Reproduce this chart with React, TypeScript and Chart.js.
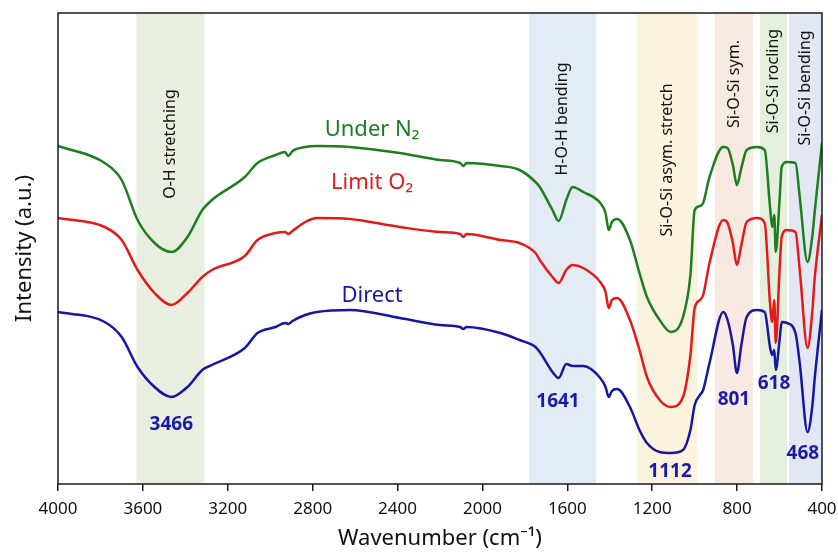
import React, { useEffect, useRef } from "react";
import { Chart, registerables } from "chart.js";

Chart.register(...registerables);

// Wavenumber grid (cm-1)
const wavenumbers = [
  4000, 3780, 3700, 3625, 3545, 3466, 3390, 3320, 3275, 3120, 3060, 2975, 2930, 2915, 2895, 2835, 2780, 2625,
  2390, 2200, 2105, 2090, 2075, 1915, 1825, 1750, 1730, 1670, 1641, 1605, 1575, 1525, 1445, 1420, 1405, 1390,
  1365, 1305, 1260, 1225, 1165, 1112, 1055, 1020, 1000, 975, 960, 930, 865, 845, 820, 801, 780, 755, 705, 670,
  645, 635, 625, 618, 600, 590, 565, 525, 505, 468, 445, 435, 400,
];

// Intensities (a.u., offset traces)
const underN2 = [
  338, 321, 304, 264, 241, 232, 247, 274, 284, 307, 321, 329, 332, 328, 333, 337, 338, 337,
  331, 324, 321, 318, 321, 318, 314, 302, 297, 274, 263, 284, 297, 292, 281, 271, 254, 262,
  265, 244, 211, 187, 164, 152, 167, 209, 274, 278, 281, 307, 337, 336, 319, 299, 316, 334, 337, 334,
  277, 257, 269, 232, 284, 317, 322, 321, 287, 222, 249, 271, 341,
];
const limitO2 = [
  266, 257, 244, 214, 191, 179, 191, 207, 214, 228, 244, 251, 252, 250, 253, 262, 266, 265,
  257, 252, 250, 247, 250, 244, 241, 231, 224, 207, 201, 214, 219, 216, 202, 192, 176, 184,
  186, 164, 134, 107, 84, 77, 87, 129, 176, 184, 189, 221, 264, 261, 241, 219, 239, 262, 266, 261,
  181, 162, 184, 141, 214, 247, 254, 252, 214, 136, 174, 204, 269,
];
const direct = [
  172, 162, 147, 117, 97, 87, 97, 114, 119, 136, 151, 157, 161, 160, 163, 169, 172, 174,
  166, 159, 157, 155, 157, 151, 144, 137, 132, 112, 106, 120, 118, 118, 106, 97, 87, 93,
  95, 77, 54, 41, 32, 31, 34, 54, 79, 89, 94, 121, 172, 164, 139, 111, 139, 167, 174, 172,
  137, 129, 134, 114, 144, 162, 161, 151, 121, 52, 79, 104, 174,
];

const xTicks = [4000, 3600, 3200, 2800, 2400, 2000, 1600, 1200, 800, 400];

// Assignment bands
const bandNames = ["O-H stretching", "H-O-H bending", "Si-O-Si asym. stretch", "Si-O-Si sym.", "Si-O-Si rocling", "Si-O-Si bending"];
const bandStart = [3630, 1780, 1271, 904, 692, 555];
const bandEnd = [3310, 1465, 989, 725, 565, 400];
const bandLabelY = [340, 365, 324, 400, 403, 396];
const bandColors = ["#e8efe0", "#e3ebf4", "#fbf3dd", "#f8e9e2", "#e5efdd", "#e3e7f3"];

// Peak labels
const peakLabels = ["3466", "1641", "1112", "801", "618", "468"];
const peakLabelX = [3466, 1644, 1116, 815, 626, 490];
const peakLabelY = [59, 82, 12, 84, 100, 30];

// Series labels
const seriesNames = ["Under N\u2082", "Limit O\u2082", "Direct"];
const seriesLabelX = [2520, 2520, 2520];
const seriesLabelY = [354, 301, 188];
const seriesColors = ["#1e7d1e", "#e61919", "#1616a3"];

const FONT = "'Noto Sans', 'DejaVu Sans', sans-serif";

export default function App() {
  const ref = useRef<HTMLCanvasElement | null>(null);

  useEffect(() => {
    document.body.style.margin = "0";
    const canvas = ref.current;
    if (!canvas) return;

    const series = [underN2, limitO2, direct];

    const bandsPlugin = {
      id: "bands",
      beforeDatasetsDraw(chart: any) {
        const { ctx, chartArea, scales } = chart;
        const xs = scales.x;
        const ys = scales.y;
        ctx.save();
        for (let i = 0; i < bandNames.length; i++) {
          const x1 = xs.getPixelForValue(bandStart[i]);
          const x2 = xs.getPixelForValue(bandEnd[i]);
          ctx.fillStyle = bandColors[i];
          ctx.fillRect(x1, chartArea.top, x2 - x1, chartArea.bottom - chartArea.top);
        }
        for (let i = 0; i < bandNames.length; i++) {
          const cx = (xs.getPixelForValue(bandStart[i]) + xs.getPixelForValue(bandEnd[i])) / 2;
          const cy = ys.getPixelForValue(bandLabelY[i]);
          ctx.save();
          ctx.translate(cx, cy);
          ctx.rotate(-Math.PI / 2);
          ctx.fillStyle = "#111";
          ctx.font = `16px ${FONT}`;
          ctx.textAlign = "center";
          ctx.textBaseline = "middle";
          ctx.fillText(bandNames[i], 0, 0);
          ctx.restore();
        }
        ctx.restore();
      },
      afterDatasetsDraw(chart: any) {
        const { ctx, chartArea, scales } = chart;
        const xs = scales.x;
        const ys = scales.y;
        ctx.save();
        ctx.textAlign = "center";
        ctx.textBaseline = "middle";
        for (let i = 0; i < seriesNames.length; i++) {
          ctx.fillStyle = seriesColors[i];
          ctx.font = `22px ${FONT}`;
          ctx.fillText(seriesNames[i], xs.getPixelForValue(seriesLabelX[i]), ys.getPixelForValue(seriesLabelY[i]));
        }
        ctx.fillStyle = "#1a1aa8";
        ctx.font = `bold 19px ${FONT}`;
        for (let i = 0; i < peakLabels.length; i++) {
          ctx.fillText(peakLabels[i], xs.getPixelForValue(peakLabelX[i]), ys.getPixelForValue(peakLabelY[i]));
        }
        ctx.strokeStyle = "#1a1a1a";
        ctx.lineWidth = 1.5;
        ctx.strokeRect(chartArea.left, chartArea.top, chartArea.right - chartArea.left, chartArea.bottom - chartArea.top);
        ctx.restore();
      },
    };

    const chart = new Chart(canvas, {
      type: "line",
      data: {
        datasets: series.map((s, i) => ({
          label: seriesNames[i],
          data: wavenumbers.map((w, j) => ({ x: w, y: s[j] })),
          borderColor: seriesColors[i],
          borderWidth: 2.5,
          pointRadius: 0,
          fill: false,
          cubicInterpolationMode: "monotone" as const,
        })),
      },
      options: {
        responsive: false,
        animation: false,
        devicePixelRatio: 1,
        layout: { padding: { top: 13, right: 16, left: 0, bottom: 0 } },
        plugins: { legend: { display: false }, tooltip: { enabled: false } },
        scales: {
          x: {
            type: "linear",
            reverse: true,
            min: 400,
            max: 4000,
            afterBuildTicks: (scale: any) => {
              scale.ticks = xTicks.map((v) => ({ value: v }));
            },
            afterFit: (scale: any) => {
              scale.height = 68;
              scale.paddingLeft = 0;
              scale.paddingRight = 0;
            },
            grid: { display: true, drawOnChartArea: false, drawTicks: true, tickLength: 7, color: "#1a1a1a", lineWidth: 1.5 },
            border: { display: false },
            ticks: {
              color: "#111",
              font: { family: FONT, size: 17 },
              padding: 8,
              maxRotation: 0,
              autoSkip: false,
              callback: (v: any) => String(v),
            },
            title: {
              display: true,
              text: "Wavenumber (cm\u207B\u00B9)",
              color: "#111",
              font: { family: FONT, size: 22 },
              padding: { top: 0, bottom: 0 },
            },
          },
          y: {
            min: 0,
            max: 471,
            afterFit: (scale: any) => {
              scale.width = 58;
              scale.paddingTop = 0;
              scale.paddingBottom = 0;
            },
            grid: { display: false },
            border: { display: false },
            ticks: { display: false },
            title: {
              display: true,
              text: "Intensity (a.u.)",
              color: "#111",
              font: { family: FONT, size: 22 },
              padding: { top: 12, bottom: 0 },
            },
          },
        },
      },
      plugins: [bandsPlugin],
    } as any);

    return () => chart.destroy();
  }, []);

  return <canvas ref={ref} width={838} height={552} style={{ display: "block" }} />;
}
